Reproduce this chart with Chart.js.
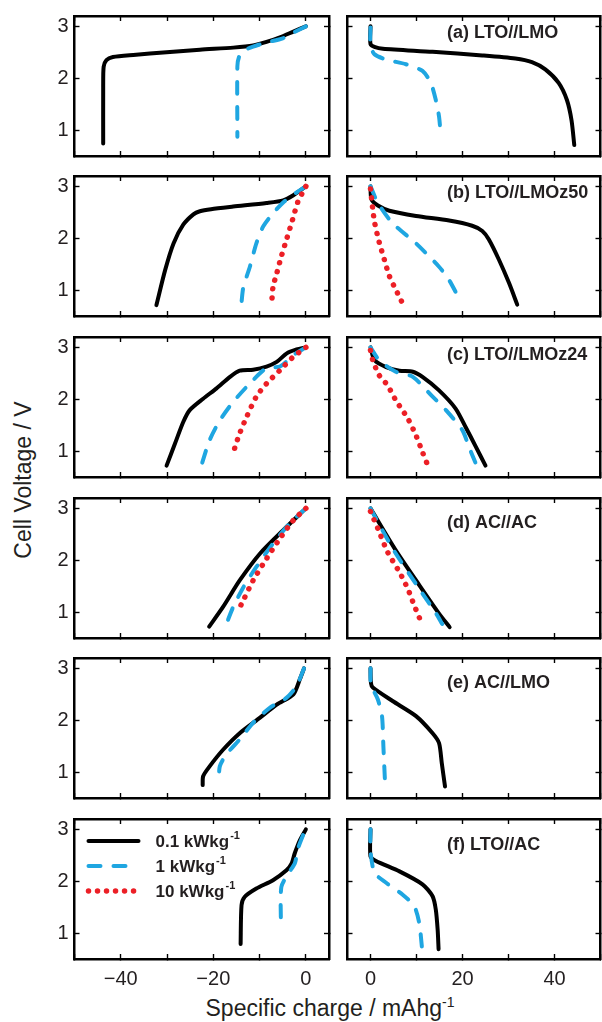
<!DOCTYPE html>
<html>
<head>
<meta charset="utf-8">
<script src="https://cdn.jsdelivr.net/npm/chart.js@4.4.0/dist/chart.umd.min.js"></script>
<style>
  body { margin: 0; background: #fff; }
  #fig { position: relative; width: 602px; height: 1022px; overflow: hidden; font-family: "Liberation Sans", Arial, sans-serif; color: #231f20; }
  .cell { position: absolute; }
  #ytitle { position: absolute; left: 22.5px; top: 480px; font-size: 23px; line-height: 1; white-space: nowrap; transform: translate(-50%, -50%) rotate(-90deg); }
  #xtitle { position: absolute; left: 330px; top: 1008px; font-size: 23px; line-height: 1; white-space: nowrap; transform: translate(-50%, -50%); }
  #xtitle sup { font-size: 14px; vertical-align: 0; position: relative; top: -9px; }
</style>
</head>
<body>
<div id="fig">
  <div id="ytitle">Cell Voltage / V</div>
  <div id="xtitle">Specific charge / mAhg<sup>-1</sup></div>
</div>
<script>
// axis ticks
const xTicksLeft = [-50, -40, -30, -20, -10, 0];
const xTicksRight = [0, 10, 20, 30, 40, 50];
const xLabelsLeft = [-40, -20, 0];
const xLabelsRight = [0, 20, 40];
const yTicks = [1, 2, 3];

const panelNames = ["(a) LTO//LMO", "(b) LTO//LMOz50", "(c) LTO//LMOz24", "(d) AC//AC", "(e) AC//LMO", "(f) LTO//AC"];
const rateNames = ["0.1 kWkg", "1 kWkg", "10 kWkg"];

// [specific charge, cell voltage] -- left = charge, right = discharge
// (a) LTO//LMO
const aChg01 = [[0,3.0],[-2.7,2.90],[-5.6,2.79],[-8.5,2.70],[-11.4,2.63],[-15.7,2.59],[-22.9,2.55],[-30.1,2.50],[-37.3,2.45],[-41.7,2.41],[-43.1,2.35],[-43.7,2.22],[-43.8,1.84],[-43.8,0.74]];
const aChg1 = [[0,3.0],[-2.7,2.88],[-5.0,2.77],[-8.5,2.69],[-11.4,2.61],[-13.2,2.54],[-14.4,2.42],[-14.8,2.23],[-14.8,0.87]];
const aDis01 = [[0,3.0],[0,2.66],[1.0,2.60],[2.7,2.57],[13.5,2.51],[24.3,2.44],[31.5,2.38],[35.1,2.31],[38.0,2.17],[40.9,1.91],[42.7,1.58],[43.7,1.19],[44.3,0.71]];
const aDis1 = [[0,2.98],[0,2.62],[0.9,2.46],[3.4,2.36],[7.7,2.27],[11.3,2.14],[13.1,1.91],[14.2,1.58],[14.9,1.26],[15.3,0.87]];
// (b) LTO//LMOz50
const bChg01 = [[0,3.0],[-2.7,2.83],[-4.9,2.73],[-8.5,2.68],[-15.7,2.61],[-20.5,2.56],[-22.9,2.52],[-24.3,2.46],[-26.5,2.26],[-28.6,1.90],[-30.4,1.39],[-32.3,0.71]];
const bChg1 = [[0,3.0],[-2.7,2.84],[-4.9,2.69],[-7.1,2.48],[-9.2,2.23],[-10.7,1.90],[-12.1,1.45],[-13.5,1.06],[-13.9,0.77]];
const bChg10 = [[0,3.0],[-0.6,2.90],[-1.7,2.71],[-2.9,2.35],[-4.2,1.97],[-5.3,1.65],[-6.3,1.32],[-7.1,1.06],[-7.4,0.71]];
const bDis01 = [[0,3.0],[0.2,2.75],[1.6,2.63],[4.1,2.53],[9.9,2.43],[17.1,2.34],[22.1,2.24],[24.3,2.14],[25.7,1.98],[27.9,1.59],[30.1,1.14],[31.9,0.72]];
const bDis1 = [[0,3.0],[1.6,2.68],[4.8,2.29],[9.9,1.90],[14.9,1.45],[17.1,1.19],[18.9,0.90]];
const bDis10 = [[0,2.95],[0.5,2.55],[0.9,2.30],[1.9,1.92],[3.0,1.59],[4.1,1.27],[5.5,1.01],[7.1,0.72]];
// (c) LTO//LMOz24
const cChg01 = [[0,3.0],[-2.0,2.96],[-4.2,2.88],[-6.3,2.72],[-8.5,2.63],[-11.4,2.57],[-14.3,2.55],[-16.4,2.43],[-19.3,2.21],[-22.2,2.01],[-25.1,1.79],[-26.5,1.56],[-28.3,1.14],[-30.1,0.72]];
const cChg1 = [[0,3.0],[-2.7,2.85],[-5.6,2.63],[-8.5,2.60],[-11.4,2.37],[-15.7,1.95],[-18.6,1.59],[-20.8,1.21],[-22.6,0.72]];
const cChg10 = [[0,3.0],[-0.6,2.96],[-2.7,2.82],[-5.6,2.56],[-8.5,2.30],[-10.7,2.05],[-12.8,1.66],[-14.3,1.34],[-15.4,1.05],[-15.5,0.94]];
const cDis01 = [[0,3.0],[0.9,2.75],[3.4,2.62],[6.3,2.55],[9.2,2.53],[11.3,2.43],[14.9,2.17],[18.5,1.82],[20.7,1.46],[22.8,1.10],[25.0,0.72]];
const cDis1 = [[0,3.0],[1.9,2.75],[5.5,2.53],[9.2,2.43],[13.5,2.05],[16.4,1.79],[20.0,1.40],[21.4,1.08],[22.8,0.78]];
const cDis10 = [[0,2.94],[0.5,2.75],[1.9,2.46],[3.7,2.27],[5.5,1.98],[8.1,1.63],[9.9,1.30],[11.3,0.98],[12.2,0.78]];
// (d) AC//AC
const dChg01 = [[0,3.0],[-4.9,2.58],[-9.9,2.13],[-14.3,1.61],[-17.9,1.10],[-20.9,0.72]];
const dChg1 = [[0,3.0],[-3.5,2.71],[-7.1,2.32],[-10.7,1.87],[-13.5,1.48],[-15.7,1.10],[-17.3,0.74]];
const dChg10 = [[0,3.0],[-2.7,2.77],[-5.6,2.42],[-8.5,2.03],[-11.4,1.61],[-13.5,1.23],[-14.8,1.0]];
const dDis01 = [[0,3.0],[5.5,2.19],[10.6,1.52],[14.9,0.97],[17.2,0.71]];
const dDis1 = [[0,3.0],[5.0,2.2],[10.2,1.5],[14.2,0.98],[15.6,0.77]];
const dDis10 = [[0,2.94],[1.6,2.61],[3.7,2.16],[6.3,1.77],[8.1,1.45],[9.5,1.13],[11.2,0.77]];
// (e) AC//LMO
const eChg01 = [[-0.4,3.0],[-1.3,2.79],[-2.7,2.50],[-6.3,2.30],[-9.9,2.05],[-14.3,1.75],[-17.9,1.43],[-20.8,1.11],[-22.2,0.92],[-22.3,0.75]];
const eChg1 = [[-0.4,3.0],[-2.0,2.66],[-4.2,2.43],[-7.8,2.24],[-11.4,1.95],[-14.3,1.63],[-17.2,1.34],[-18.6,1.11],[-18.8,0.82]];
const eDis01 = [[0,3.0],[0.1,2.72],[0.5,2.63],[4.8,2.37],[9.9,2.08],[13.5,1.75],[14.9,1.56],[15.5,1.17],[16.2,0.72]];
const eDis1 = [[0,3.0],[0.1,2.69],[1.6,2.40],[2.5,2.08],[2.8,1.50],[3.2,0.72]];
// (f) LTO//AC
const fChg01 = [[0,3.0],[-1.3,2.79],[-2.4,2.54],[-3.1,2.34],[-4.2,2.21],[-7.1,2.02],[-10.7,1.86],[-13.2,1.70],[-13.9,1.54],[-14.1,0.79]];
const fChg1 = [[-0.6,2.89],[-1.7,2.63],[-2.4,2.34],[-3.8,2.15],[-5.3,1.89],[-5.4,1.18]];
const fDis01 = [[0,3.0],[0,2.48],[1.2,2.39],[6.3,2.19],[11.3,1.94],[13.5,1.71],[14.2,1.45],[14.6,1.06],[14.8,0.69]];
const fDis1 = [[0,3.0],[0,2.58],[0.9,2.16],[3.4,1.97],[7.0,1.74],[9.5,1.52],[10.6,1.19],[11.2,0.71]];

// per row: [0.1, 1, 10 kW/kg] for charge and discharge side
const chgSeries = [[aChg01, aChg1, null], [bChg01, bChg1, bChg10], [cChg01, cChg1, cChg10], [dChg01, dChg1, dChg10], [eChg01, eChg1, null], [fChg01, fChg1, null]];
const disSeries = [[aDis01, aDis1, null], [bDis01, bDis1, bDis10], [cDis01, cDis1, cDis10], [dDis01, dDis1, dDis10], [eDis01, eDis1, null], [fDis01, fDis1, null]];

const seriesStyles = [
  { color: "#000000", width: 4, dash: [] },
  { color: "#1fa6e1", width: 4, dash: [12, 13] },
  { color: "#ec1f26", width: 5.5, dash: [0.01, 9] },
];

// layout
const rowTop = [16, 176, 337, 498, 658, 819];
const PANEL_H = 140;
const tagDy = [17, 17, 18, 25, 25, 26];
const textColor = "#231f20";
const tickFont = { family: "'Liberation Sans', Arial, sans-serif", size: 20 };

const fmt = (v) => (v < 0 ? "\u2212" + Math.abs(v) : String(v));

const panelTag = {
  id: "panelTag",
  afterDraw(chart, args, o) {
    if (!o.text) return;
    const { ctx, chartArea: a } = chart;
    ctx.save();
    ctx.font = 'bold 18px "Liberation Sans", Arial, sans-serif';
    ctx.fillStyle = textColor;
    ctx.textBaseline = "middle";
    ctx.fillText(o.text, a.left + 99.5, a.top + o.dy);
    ctx.restore();
  },
};

const rateLegend = {
  id: "rateLegend",
  afterDraw(chart, args, o) {
    if (!o.show) return;
    const { ctx, chartArea: a } = chart;
    ctx.save();
    rateNames.forEach((txt, i) => {
      const st = seriesStyles[i];
      const y = a.top + 22 + i * 25;
      ctx.beginPath();
      ctx.strokeStyle = st.color;
      ctx.lineWidth = st.width;
      ctx.lineCap = "round";
      ctx.setLineDash(st.dash);
      ctx.moveTo(a.left + 14, y);
      ctx.lineTo(a.left + 64, y);
      ctx.stroke();
      ctx.setLineDash([]);
      ctx.fillStyle = textColor;
      ctx.textBaseline = "middle";
      ctx.font = 'bold 17px "Liberation Sans", Arial, sans-serif';
      ctx.fillText(txt, a.left + 81, y + 1);
      const w = ctx.measureText(txt).width;
      ctx.font = 'bold 11px "Liberation Sans", Arial, sans-serif';
      ctx.fillText("-1", a.left + 82 + w, y - 5);
    });
    ctx.restore();
  },
};

Chart.register(panelTag, rateLegend);

function makeScale(pos, lim, ticks, labels, size) {
  const horiz = pos === "top" || pos === "bottom";
  return {
    type: "linear",
    axis: horiz ? "x" : "y",
    position: pos,
    min: lim[0],
    max: lim[1],
    afterBuildTicks: (s) => {
      s.ticks = ticks.map((v) => ({ value: v }));
    },
    afterFit: (s) => {
      if (horiz) s.height = size;
      else s.width = size;
      s.paddingLeft = s.paddingRight = s.paddingTop = s.paddingBottom = 0;
    },
    border: { display: true, color: "#000", width: 2.5 },
    grid: { drawOnChartArea: false, drawTicks: true, tickLength: -5, tickWidth: 1.4, tickColor: "#000" },
    ticks: {
      display: labels.length > 0,
      autoSkip: false,
      maxRotation: 0,
      padding: horiz ? 13 : 11,
      color: textColor,
      font: tickFont,
      callback: (v) => (labels.includes(v) ? fmt(v) : ""),
    },
  };
}

const fig = document.getElementById("fig");

function makePanel(row, col) {
  const left = col === 0;
  const bottom = row === 5;
  const series = left ? chgSeries[row] : disSeries[row];
  const xLim = left ? [-50, 5] : [-5, 50];
  const xTicks = left ? xTicksLeft : xTicksRight;
  const xLabels = bottom ? (left ? xLabelsLeft : xLabelsRight) : [];

  const box = document.createElement("div");
  box.className = "cell";
  const boxLeft = left ? 28 : 344;
  const boxW = left ? 304 : 258;
  const boxH = 3 + PANEL_H + (bottom ? 34 : 3);
  box.style.left = boxLeft + "px";
  box.style.top = rowTop[row] - 3 + "px";
  box.style.width = boxW + "px";
  box.style.height = boxH + "px";
  const cv = document.createElement("canvas");
  box.appendChild(cv);
  fig.appendChild(box);

  const datasets = [];
  series.forEach((pts, i) => {
    if (!pts) return;
    const st = seriesStyles[i];
    datasets.push({
      data: pts.map(([x, y]) => ({ x, y })),
      borderColor: st.color,
      backgroundColor: st.color,
      borderWidth: st.width,
      borderDash: st.dash,
      borderCapStyle: "round",
      borderJoinStyle: "round",
      pointRadius: 0,
      showLine: true,
      tension: 0.25,
      fill: false,
      order: 3 - i,
    });
  });

  new Chart(cv, {
    type: "scatter",
    data: { datasets },
    options: {
      responsive: true,
      maintainAspectRatio: false,
      animation: false,
      events: [],
      layout: { padding: { top: 3, bottom: bottom ? 0 : 3, left: left ? 0 : 3.5, right: left ? 3 : 1.5 } },
      plugins: {
        legend: { display: false },
        tooltip: { enabled: false },
        panelTag: { text: left ? "" : panelNames[row], dy: tagDy[row] },
        rateLegend: { show: left && bottom },
      },
      scales: {
        x: makeScale("bottom", xLim, xTicks, xLabels, bottom ? 34 : 0),
        x2: makeScale("top", xLim, xTicks, [], 0),
        y: makeScale("left", [0.5, 3.2], yTicks, left ? yTicks : [], left ? 46.5 : 0),
        y2: makeScale("right", [0.5, 3.2], yTicks, [], 0),
      },
    },
  });
}

for (let r = 0; r < 6; r++) {
  makePanel(r, 0);
  makePanel(r, 1);
}
</script>
</body>
</html>
